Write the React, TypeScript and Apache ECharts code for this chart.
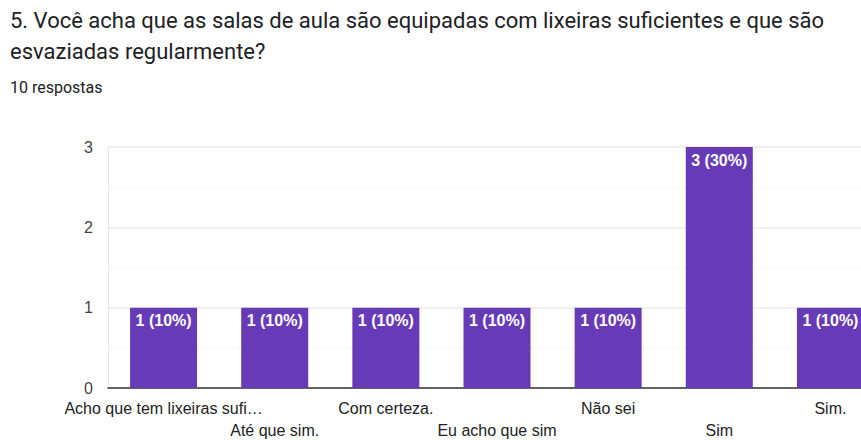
import React, { useEffect, useRef } from "react";
import * as echarts from "echarts";

const titleLines = [
  "5. Você acha que as salas de aula são equipadas com lixeiras suficientes e que são",
  "esvaziadas regularmente?",
];
const subtitle = "10 respostas";
const totalResponses = 10;
const categories = [
  "Acho que tem lixeiras sufi…",
  "Até que sim.",
  "Com certeza.",
  "Eu acho que sim",
  "Não sei",
  "Sim",
  "Sim.",
];
const counts = [1, 1, 1, 1, 1, 3, 1];
const yTicks = [0, 1, 2, 3];

export default function App() {
  const ref = useRef<HTMLDivElement>(null);
  useEffect(() => {
    if (!ref.current) return;
    const chart = echarts.init(ref.current, null, { renderer: "svg" });
    chart.setOption({
      animation: false,
      backgroundColor: "#fff",
      title: {
        text: titleLines.join("\n"),
        left: 5,
        top: 0,
        textStyle: {
          fontFamily: "Roboto",
          fontSize: 22,
          fontWeight: "normal",
          color: "#202124",
          lineHeight: 31,
        },
      },
      graphic: [
        {
          type: "text",
          left: 10,
          top: 79,
          style: {
            text: subtitle,
            font: "16px Roboto",
            fill: "#202124",
          },
        },
      ],
      grid: {
        left: 108,
        top: 147,
        width: 778,
        height: 241,
        containLabel: false,
        outerBoundsMode: "none",
      },
      xAxis: {
        type: "category",
        data: categories,
        axisLine: { lineStyle: { color: "#333", width: 1.5 } },
        axisTick: { show: false },
        axisLabel: {
          interval: 0,
          hideOverlap: false,
          margin: 9,
          fontFamily: "Arial",
          fontSize: 16,
          color: "#222",
          lineHeight: 22,
          formatter: (v: string, i: number) => (i % 2 === 1 ? "\n" + v : v),
        },
      },
      yAxis: {
        type: "value",
        min: yTicks[0],
        max: yTicks[yTicks.length - 1],
        interval: 1,
        axisLine: { show: true, lineStyle: { color: "#e6e6e6", width: 1 } },
        axisTick: { show: false },
        axisLabel: {
          margin: 15,
          fontFamily: "Arial",
          fontSize: 16,
          color: "#444",
        },
        splitLine: { lineStyle: { color: "#ebebeb", width: 1.5 } },
        minorTick: { show: false, splitNumber: 2 },
        minorSplitLine: { show: true, lineStyle: { color: "#f6f6f6", width: 1 } },
      },
      series: [
        {
          type: "bar",
          data: counts,
          barWidth: 67,
          itemStyle: { color: "#673ab7" },
          label: {
            show: true,
            position: "insideTop",
            distance: 5,
            color: "#fff",
            fontFamily: "Arial",
            fontSize: 16,
            fontWeight: "bold",
            formatter: (p: any) =>
              `${p.value} (${Math.round((p.value / totalResponses) * 100)}%)`,
          },
        },
      ],
    });
    return () => chart.dispose();
  }, []);
  return (
    <div
      ref={ref}
      style={{ position: "fixed", left: 0, top: 0, width: 861, height: 440 }}
    />
  );
}
